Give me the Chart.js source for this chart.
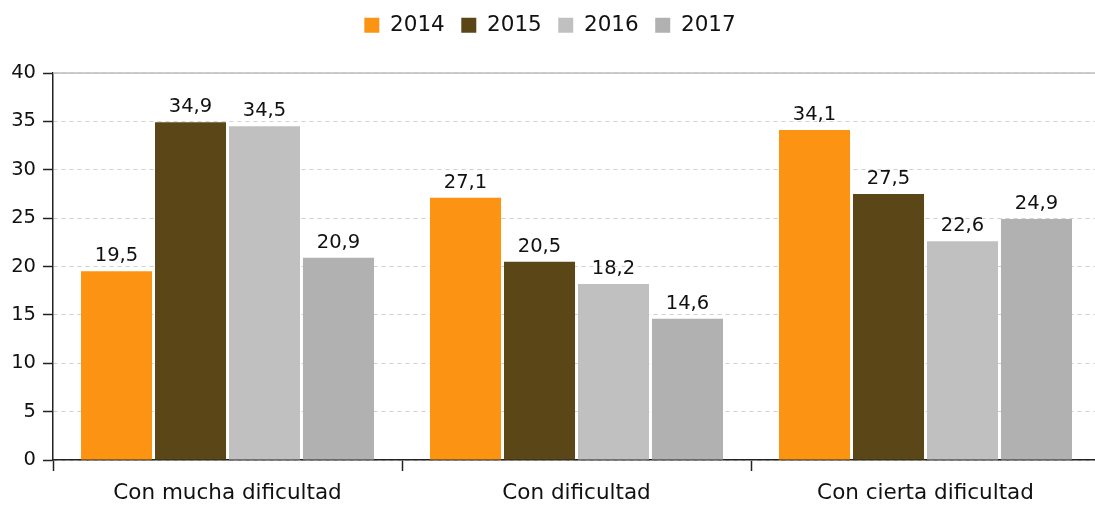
<!DOCTYPE html>
<html>
<head>
<meta charset="utf-8">
<script src="https://cdn.jsdelivr.net/npm/chart.js@4.4.1/dist/chart.umd.min.js"></script>
<style>
  html, body { margin:0; padding:0; background:#fff; overflow:hidden; }
  #wrap { position:relative; width:1100px; height:506px; }
</style>
</head>
<body>
<div id="wrap"><canvas id="ch"></canvas></div>
<script>
// data
const CATS   = ['Con mucha dificultad', 'Con dificultad', 'Con cierta dificultad'];
const YEARS  = ['2014', '2015', '2016', '2017'];
const V2014  = [19.5, 27.1, 34.1];
const V2015  = [34.9, 20.5, 27.5];
const V2016  = [34.5, 18.2, 22.6];
const V2017  = [20.9, 14.6, 24.9];
const COLS   = ['#FC9312', '#5B4617', '#C0C0C0', '#B1B1B1'];

const FONT = 'DejaVu Sans';
const fmt = v => v.toFixed(1).replace('.', ',');

// value labels over bars
const barLabels = {
  id: 'barLabels',
  afterDatasetsDraw(chart) {
    const { ctx } = chart;
    ctx.save();
    ctx.font = `19.5px "${FONT}"`;
    ctx.fillStyle = '#111';
    ctx.textAlign = 'center';
    ctx.textBaseline = 'alphabetic';
    chart.data.datasets.forEach((ds, i) => {
      chart.getDatasetMeta(i).data.forEach((bar, j) => {
        ctx.fillText(fmt(ds.data[j]), bar.x, bar.y - 10);
      });
    });
    ctx.restore();
  }
};

// solid top line at the max value
const topLine = {
  id: 'topLine',
  beforeDatasetsDraw(chart) {
    const { ctx, chartArea } = chart;
    const y = chart.scales.y.getPixelForValue(chart.scales.y.max);
    ctx.save();
    ctx.strokeStyle = '#BDBDBD';
    ctx.lineWidth = 1.5;
    ctx.beginPath();
    ctx.moveTo(chartArea.left, y);
    ctx.lineTo(chartArea.right, y);
    ctx.stroke();
    ctx.restore();
  }
};

const series = [V2014, V2015, V2016, V2017];

new Chart(document.getElementById('ch'), {
  type: 'bar',
  data: {
    labels: CATS,
    datasets: YEARS.map((y, i) => ({
      label: y, data: series[i], backgroundColor: COLS[i],
      borderWidth: 0, categoryPercentage: 0.848, barPercentage: 0.96
    }))
  },
  options: {
    responsive: true, maintainAspectRatio: false, animation: false,
    layout: { padding: { top: -2, left: 0, right: 0, bottom: 0 } },
    plugins: {
      tooltip: { enabled: false },
      legend: {
        position: 'top',
        labels: {
          font: { family: FONT, size: 21.5 }, color: '#111',
          boxWidth: 15, boxHeight: 15, padding: 16.5
        }
      },
      // blank spacer between legend and plot
      subtitle: {
        display: true, text: ' ', weight: 500, color: '#fff',
        font: { size: 4, lineHeight: 1 }, padding: { top: 0, bottom: 23 }
      }
    },
    scales: {
      x: {
        offset: true,
        grid: { offset: true, drawOnChartArea: false, tickLength: 11, tickColor: '#222', tickWidth: 1.5 },
        border: { color: '#222', width: 1.5 },
        ticks: { font: { family: FONT, size: 21.5 }, color: '#111', padding: 10 },
        afterFit: s => { s.height = 46; }
      },
      y: {
        min: 0, max: 40,
        ticks: { stepSize: 5, font: { family: FONT, size: 19.5 }, color: '#111', padding: 7 },
        grid: { color: '#CFCFCF', lineWidth: 1, tickLength: 10, tickColor: '#222', tickWidth: 1.5 },
        border: { color: '#222', width: 1.5, dash: [4, 4] },
        afterFit: s => { s.width = 53; }
      }
    }
  },
  plugins: [barLabels, topLine]
});
</script>
</body>
</html>
